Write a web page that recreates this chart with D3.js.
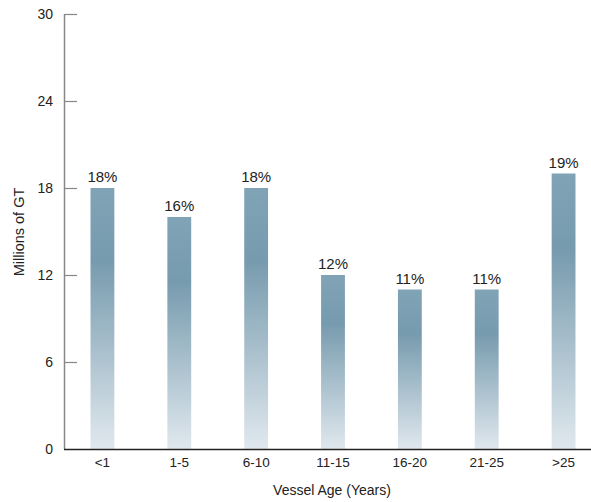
<!DOCTYPE html>
<html><head><meta charset="utf-8">
<script src="https://cdn.jsdelivr.net/npm/d3@7"></script>
<style>body{margin:0;background:#fff}svg{display:block}text{font-family:"Liberation Sans",Arial,sans-serif;fill:#222}</style>
</head><body><svg width="591" height="502"></svg>
<script>
const categories = ["<1","1-5","6-10","11-15","16-20","21-25",">25"];
const values = [18,16,18,12,11,11,19];
const shares = ["18%","16%","18%","12%","11%","11%","19%"];
const yTicks = [0,6,12,18,24,30];

const svg = d3.select("svg");
const x0 = 64, x1 = 602, yTop = 14, yBot = 449;
const x = d3.scaleBand().domain(categories).range([x0, x1]).paddingInner(0.69).paddingOuter(0.345);
const y = d3.scaleLinear().domain([0,30]).range([yBot, yTop]);

const grad = svg.append("defs").append("linearGradient").attr("id","g").attr("x1",0).attr("y1",0).attr("x2",0).attr("y2",1);
grad.append("stop").attr("offset","0%").attr("stop-color","#80a3b6");
grad.append("stop").attr("offset","28%").attr("stop-color","#779bae");
grad.append("stop").attr("offset","100%").attr("stop-color","#e0e8ee");

svg.selectAll("rect.bar").data(values).join("rect").attr("class","bar")
  .attr("x",(d,i)=>x(categories[i])).attr("width",x.bandwidth())
  .attr("y",d=>y(d)).attr("height",d=>y(0)-y(d)).attr("fill","url(#g)");

svg.selectAll("text.val").data(values).join("text").attr("class","val")
  .attr("x",(d,i)=>x(categories[i])+x.bandwidth()/2).attr("y",d=>y(d)-6)
  .attr("text-anchor","middle").attr("font-size",15).text((d,i)=>shares[i]);

// y axis
const ya = svg.append("g").attr("transform",`translate(${x0},0)`)
  .call(d3.axisRight(y).tickValues(yTicks).tickSize(13).tickFormat(""));
ya.select(".domain").attr("stroke","#888").attr("stroke-width",1.5).attr("d",`M0.5,${yTop}V${yBot}`);
ya.selectAll(".tick line").attr("stroke","#888").attr("stroke-width",1.2);
ya.selectAll(".tick").filter(d=>d===0).select("line").remove();
svg.selectAll("text.yt").data(yTicks).join("text").attr("class","yt")
  .attr("x",53).attr("y",d=>y(d)+5).attr("text-anchor","end").attr("font-size",14).text(d=>d);

// x axis
const xa = svg.append("g").attr("transform",`translate(0,${yBot})`)
  .call(d3.axisBottom(x).tickSize(0).tickPadding(8));
xa.select(".domain").attr("stroke","#222").attr("stroke-width",1.5).attr("d",`M${x0},0.5H591`);
xa.selectAll(".tick text").attr("font-size",13.5).attr("fill","#222").style("font-family",'"Liberation Sans",Arial,sans-serif');

svg.append("text").attr("x",332).attr("y",495).attr("text-anchor","middle").attr("font-size",14).text("Vessel Age (Years)");
svg.append("text").attr("transform","translate(24,232) rotate(-90)").attr("text-anchor","middle").attr("font-size",14.5).text("Millions of GT");
</script></body></html>
